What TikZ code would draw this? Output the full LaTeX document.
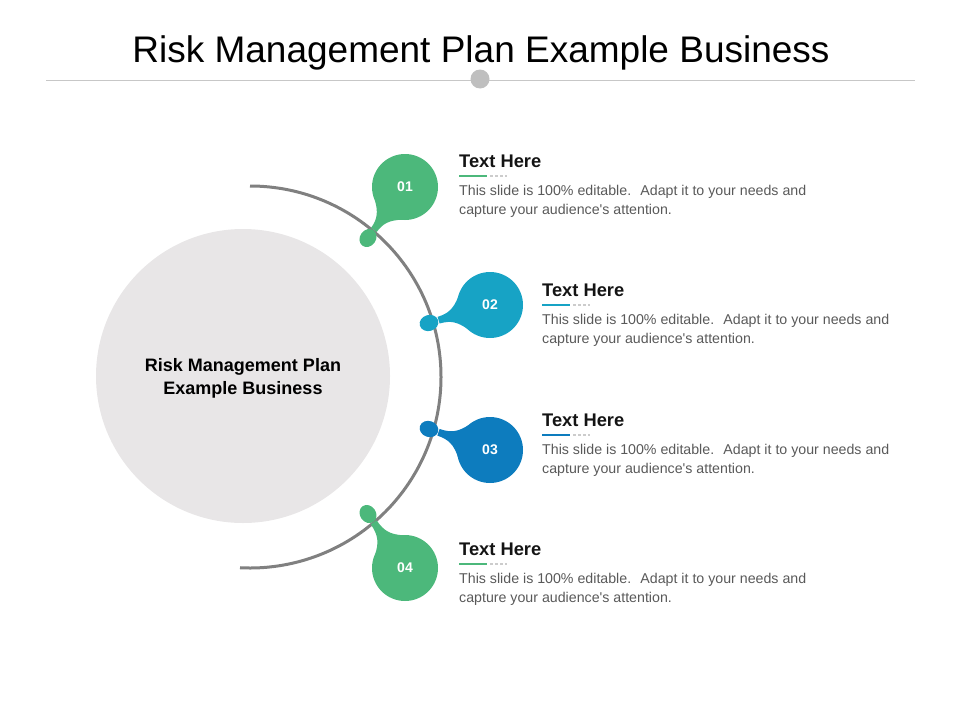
\documentclass[tikz,border=0pt]{standalone}
\usepackage{fontspec}
\setmainfont{Liberation Sans}
\usetikzlibrary{calc}
\usetikzlibrary{positioning}

\definecolor{riskgreen}{RGB}{76,184,123}
\definecolor{riskteal}{RGB}{23,163,197}
\definecolor{riskblue}{RGB}{13,124,190}
\definecolor{riskgray}{RGB}{232,230,231}
\definecolor{arcgray}{RGB}{128,128,128}

\begin{document}
\begin{tikzpicture}[
    x=1pt, y=-1pt,
    % styles
    heading/.style={anchor=base west, inner sep=0pt, text=black!92,
      font=\fontsize{18.3}{20}\selectfont\bfseries},
    body/.style={anchor=base west, inner sep=0pt, align=left, text=black!65,
      font=\fontsize{14.2}{19}\selectfont},
    bubble/.style={circle, inner sep=0pt, minimum size=66pt, text=white,
      font=\fontsize{14}{16}\selectfont\bfseries},
    rule/.style={line width=1.2pt},
    arcline/.style={line width=3pt, arcgray}]

    \useasboundingbox (0,0) rectangle (960,720);

    % title
    \node[anchor=base, inner sep=0pt, font=\fontsize{37}{40}\selectfont]
      (title) at (481,62) {Risk Management Plan Example Business};
    \draw[black!22, line width=0.8pt] (46,80) -- (915,80);
    \fill[black!25] (480,79) circle (9.5);

    % centre disc
    \fill[riskgray] (243,376) circle (147);
    \node[align=center, font=\fontsize{18}{23}\selectfont\bfseries]
      (core) at (243,378) {Risk Management Plan\\Example Business};

    % arc
    \draw[arcline] (250,186) arc[start angle=-90, end angle=93, radius=191];

    \foreach \i/\bx/\by/\dx/\dy/\col/\tx/\ty in {
      01/405/187/368/238/riskgreen/459/167,
      02/490/305/429/323/riskteal/542/296,
      03/490/450/429/429/riskblue/542/426,
      04/405/568/368/514/riskgreen/459/555
    } {
      % bubble with drop
      \pgfmathsetmacro\ang{atan2(\by-\dy,\dx-\bx)}
      \pgfmathsetmacro\len{veclen(\dx-\bx,\dy-\by)}
      \begin{scope}[shift={(\bx,\by)}, rotate=\ang]
        \fill[\col] (28,-17) .. controls (36,-7) and (42,-3.5) .. (\len-10,-3.5)
          -- (\len-10,3.5) .. controls (42,3.5) and (36,7) .. (28,17) -- cycle;
        \fill[\col] (\len,0) ellipse [x radius=9.5, y radius=8];
      \end{scope}
      \node[bubble, fill=\col] (b\i) at (\bx,\by) {\i};

      % text block
      \node[heading] (h\i) at (\tx,\ty) {Text Here};
      \draw[rule, \col] (\tx,\ty+9) -- ++(28,0);
      \draw[rule, black!20, dash pattern=on 3pt off 2pt] (\tx+31,\ty+9) -- ++(17,0);
      \node[body] (t\i) at (\tx,\ty+47)
        {This slide is 100\% editable. \ Adapt it to your needs and\\capture your audience\textquotesingle s attention.};
    }

  \end{tikzpicture}
\end{document}
